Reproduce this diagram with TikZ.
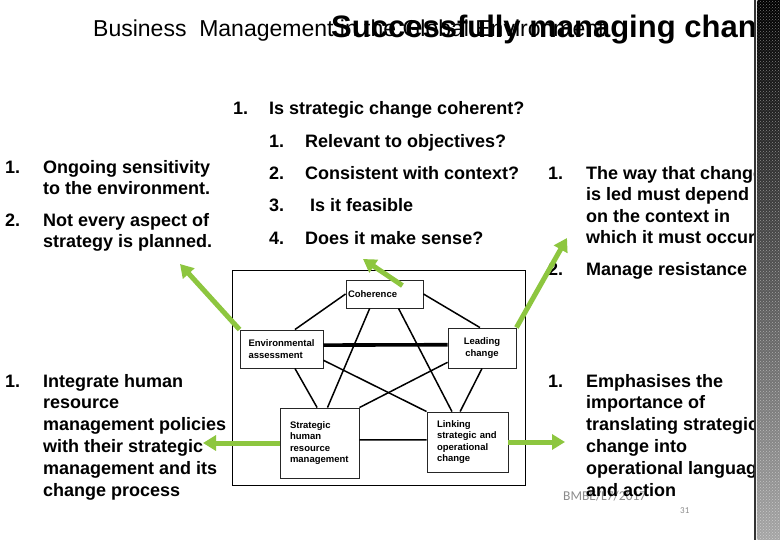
\documentclass[tikz,border=0pt]{standalone}
\usepackage{fontspec}
\setmainfont{Liberation Sans}
\newfontfamily\carlito{Carlito}
\usetikzlibrary{arrows.meta,calc,patterns}
\definecolor{grn}{RGB}{141,198,63}
\definecolor{foot}{RGB}{140,140,140}
\tikzset{
  body/.style={font=\fontsize{18}{21.5}\selectfont\bfseries, anchor=base west, inner sep=0pt},
  box/.style={draw=black!85, line width=0.9pt, fill=white, rectangle, inner ysep=0pt,
    font=\fontsize{9.5}{11.5}\selectfont\bfseries, align=left},
  conn/.style={line width=1.5pt, black},
  thickconn/.style={line width=3.6pt, black},
  garrow/.style={draw=grn, line width=5pt, -{Triangle[length=13pt,width=15pt]}}
}
\begin{document}
\begin{tikzpicture}[x=1pt,y=-1pt]
\useasboundingbox (0,0) rectangle (780,540);
\fill[white] (0,0) rectangle (780,540);

% title
\node[anchor=base west, inner sep=0pt, font=\fontsize{23}{27}\selectfont] (sub) at (93,37) {Business\ \ Management in the Global Environment};
\node[anchor=base west, inner sep=0pt, font=\fontsize{31}{36}\selectfont\bfseries] (title) at (331,38) {Successfully managing chang};

% top centre
\node[body] (tn1) at (233,115) {1.};
\node[body] (t1) at (269,115) {Is strategic change coherent?};
\node[body] (sn1) at (269,148) {1.};
\node[body] (s1) at (305,148) {Relevant to objectives?};
\node[body] (sn2) at (269,180) {2.};
\node[body] (s2) at (305,180) {Consistent with context?};
\node[body] (sn3) at (269,212) {3.};
\node[body] (s3) at (310,212) {Is it feasible};
\node[body] (sn4) at (269,245) {4.};
\node[body] (s4) at (305,245) {Does it make sense?};

% left top
\node[body] (ln1) at (5,174) {1.};
\node[body] (l1a) at (43,174) {Ongoing sensitivity};
\node[body] (l1b) at (43,195) {to the environment.};
\node[body] (ln2) at (5,227) {2.};
\node[body] (l2a) at (43,227) {Not every aspect of};
\node[body] (l2b) at (43,248) {strategy is planned.};

% right top
\node[body] (rn1) at (548,180) {1.};
\node[body] (r1a) at (586,180) {The way that change};
\node[body] (r1b) at (586,201) {is led must depend};
\node[body] (r1c) at (586,223) {on the context in};
\node[body] (r1d) at (586,244) {which it must occur};
\node[body] (rn2) at (548,276) {2.};
\node[body] (r2a) at (586,276) {Manage resistance};

% footer (under the text)
\node[anchor=base west, inner sep=0pt, text=foot, font=\carlito\fontsize{13.5}{16}\selectfont] (ftr) at (563,500) {BMBE/L7/2017};
\node[anchor=base west, inner sep=0pt, text=foot, font=\carlito\fontsize{9}{11}\selectfont] (pg) at (680,513) {31};

% bottom left
\node[body] (bn1) at (5,388) {1.};
\node[body] (b1a) at (43,388) {Integrate human};
\node[body] (b1b) at (43,409) {resource};
\node[body] (b1c) at (43,431) {management policies};
\node[body] (b1d) at (43,452) {with their strategic};
\node[body] (b1e) at (43,474) {management and its};
\node[body] (b1f) at (43,496) {change process};

% bottom right
\node[body] (en1) at (548,388) {1.};
\node[body] (e1a) at (586,388) {Emphasises the};
\node[body] (e1b) at (586,409) {importance of};
\node[body] (e1c) at (586,431) {translating strategic};
\node[body] (e1d) at (586,452) {change into};
\node[body] (e1e) at (586,474) {operational language};
\node[body] (e1f) at (586,496) {and action};

% diagram frame
\draw[black, line width=0.8pt] (232,270) rectangle (525,485);

% boxes
\node[box, minimum width=77pt, minimum height=28pt, text width=73pt, inner xsep=2pt] (coh) at (384.5,294) {Coherence};
\node[box, minimum width=83pt, minimum height=38pt, text width=66pt, inner xsep=8.5pt] (env) at (281.5,349) {Environmental\\assessment};
\node[box, minimum width=68pt, minimum height=40pt, text width=60pt, inner xsep=4pt, align=center] (lead) at (482,348) {Leading\\change};
\node[box, minimum width=79pt, minimum height=70pt, text width=59pt, inner xsep=10pt] (shrm) at (319.5,443) {Strategic\\human\\resource\\management};
\node[box, minimum width=81pt, minimum height=60pt, text width=61pt, inner xsep=10pt] (link) at (467.5,442) {Linking\\strategic and\\operational\\change};

% connectors
\draw[conn] ($(env.north west)!0.66!(env.north east)$) -- (coh.west);
\draw[conn] (coh.east) -- ($(lead.north west)!0.47!(lead.north east)$);
\draw[thickconn] ($(env.north east)!0.4!(env.south east)$) -- ($(lead.north west)!0.42!(lead.south west)$);
\draw[conn] ($(coh.south west)!0.31!(coh.south east)$) -- ($(shrm.north west)!0.6!(shrm.north east)$);
\draw[conn] ($(coh.south west)!0.68!(coh.south east)$) -- ($(link.north west)!0.31!(link.north east)$);
\draw[conn] ($(env.south west)!0.66!(env.south east)$) -- ($(shrm.north west)!0.47!(shrm.north east)$);
\draw[conn] ($(env.north east)!0.79!(env.south east)$) -- (link.north west);
\draw[conn] ($(lead.north west)!0.85!(lead.south west)$) -- (shrm.north east);
\draw[conn] ($(lead.south west)!0.5!(lead.south east)$) -- ($(link.north west)!0.41!(link.north east)$);
\draw[conn] ($(shrm.north east)!0.457!(shrm.south east)$) -- ($(link.north west)!0.467!(link.south west)$);

% green arrows
\coordinate (tipA) at (363,259);
\coordinate (tipB) at (180,264);
\coordinate (tipC) at (567,238);
\coordinate (tipD) at (203,443);
\coordinate (tipE) at (565,442);
\draw[garrow] ($(coh.north west)!0.73!(coh.north east)+(0,6)$) -- (tipA);
\draw[garrow] (env.north west) -- (tipB);
\draw[garrow] (lead.north east) -- (tipC);
\draw[garrow] (shrm.west) -- (tipD);
\draw[garrow] (link.east) -- (tipE);

% right decorative strip
\fill[black!80] (754,0) rectangle (756,540);
\fill[white!85!gray] (756,0) rectangle (757.5,540);
\shade[top color=black, bottom color=black!35] (757.5,0) rectangle (780,540);
\fill[pattern=crosshatch dots, pattern color=white, opacity=0.45] (757.5,0) rectangle (780,540);
\end{tikzpicture}
\end{document}
